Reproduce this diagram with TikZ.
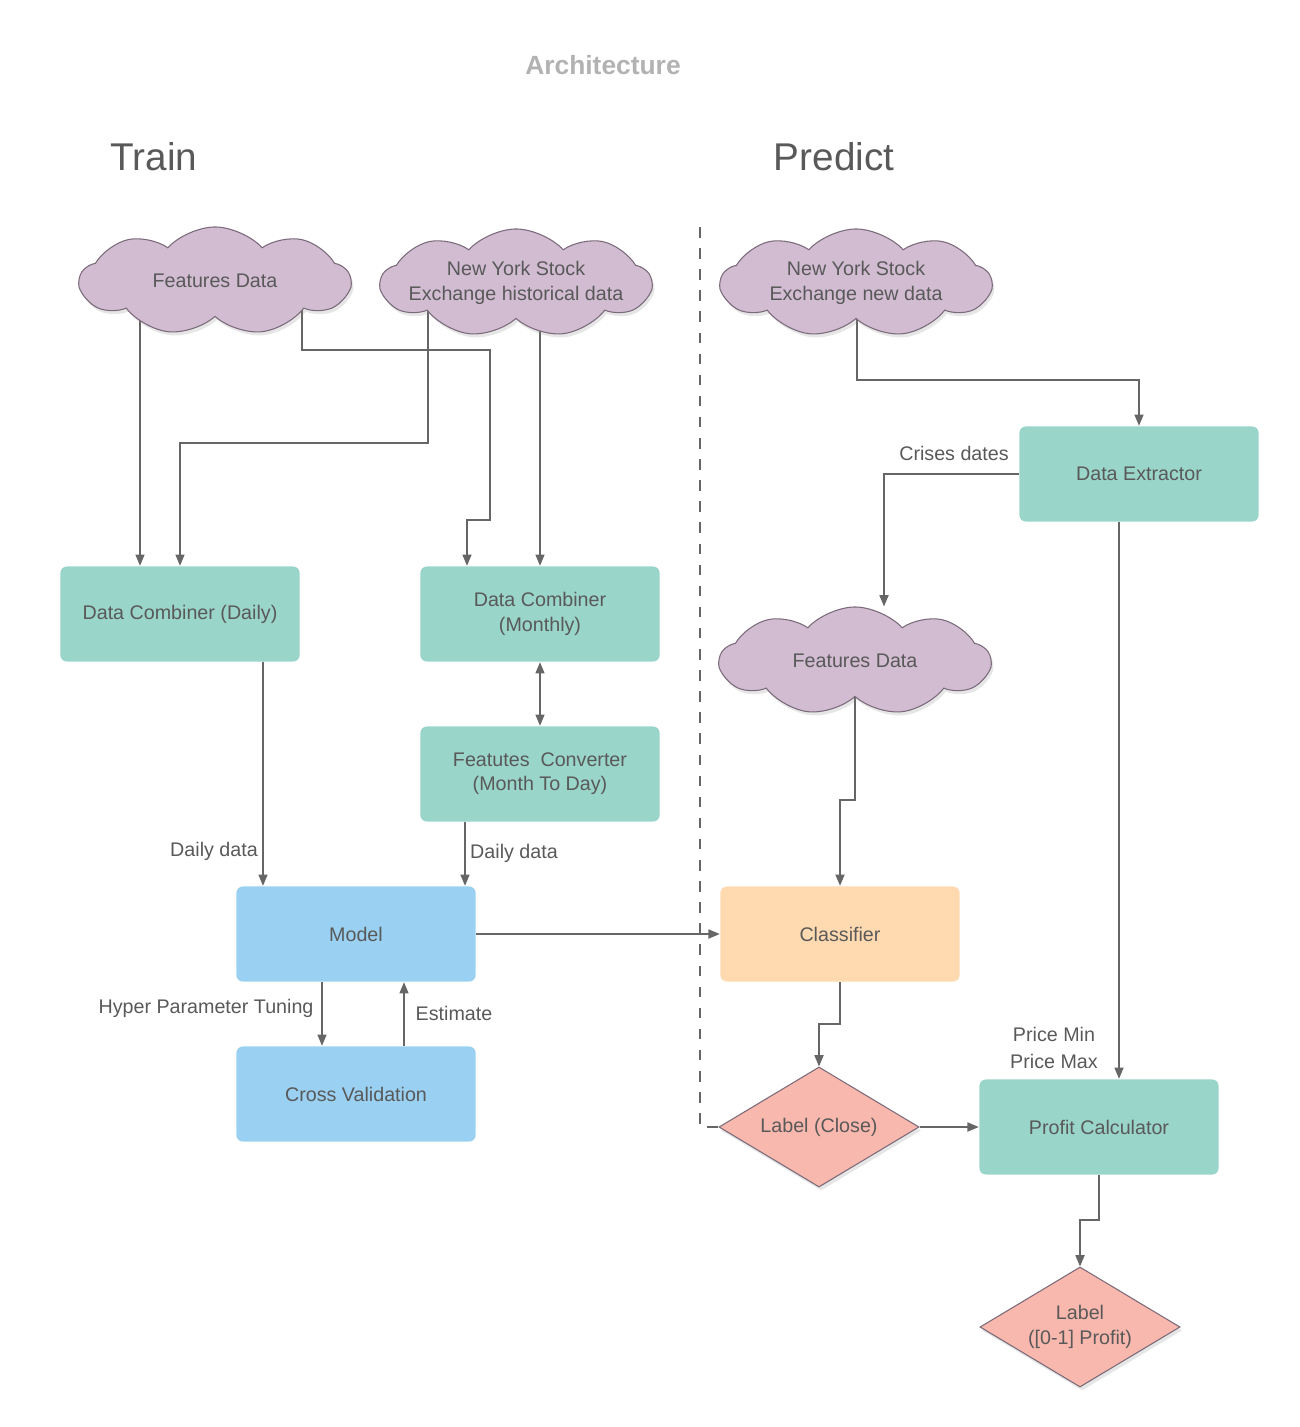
\documentclass[tikz,border=0pt]{standalone}
\usepackage{fontspec}
\setmainfont{Liberation Sans}
\usetikzlibrary{shapes.geometric,shapes.symbols,arrows.meta,backgrounds,shadows}

\definecolor{txtgray}{HTML}{595959}
\definecolor{linegray}{HTML}{666666}
\definecolor{tealfill}{HTML}{9AD5CA}
\definecolor{bluefill}{HTML}{9AD1F2}
\definecolor{peachfill}{HTML}{FFDAB1}
\definecolor{pinkfill}{HTML}{F9B8AD}
\definecolor{cloudfill}{HTML}{D2BCD2}
\definecolor{cloudline}{HTML}{7A6A7A}

\tikzset{
  txt/.style={text=txtgray, font=\fontsize{5.6}{6.9}\selectfont, align=center},
  proc/.style={txt, rectangle, rounded corners=1.8pt, minimum width=2.39cm, minimum height=0.95cm, inner sep=0pt},
  cloudy/.style={cloud, cloud puffs=9, cloud puff arc=95, cloud ignores aspect, fill=cloudfill, draw=cloudline, line width=0.3pt, minimum width=2.7cm, minimum height=1.08cm, inner sep=0pt, drop shadow={shadow xshift=0.6pt, shadow yshift=-1pt, opacity=0.2}},
  decision/.style={txt, diamond, aspect=1.67, fill=pinkfill, draw=cloudline, line width=0.3pt, minimum width=2cm, minimum height=1.2cm, inner sep=0pt, drop shadow={shadow xshift=0.6pt, shadow yshift=-1pt, opacity=0.2}},
  lbl/.style={txt, inner sep=1pt},
  arr/.style={draw=linegray, line width=0.35pt, -{Triangle[length=3.2pt,width=2.6pt]}},
  arrboth/.style={draw=linegray, line width=0.35pt, {Triangle[length=3.2pt,width=2.6pt]}-{Triangle[length=3.2pt,width=2.6pt]}},
}

\begin{document}
\begin{tikzpicture}[x=0.01cm, y=-0.01cm]
   \useasboundingbox (0,0) rectangle (1299,1427);

   % titles
   \node[text=gray!60, font=\fontsize{7.5}{9}\selectfont\bfseries] (title) at (603,65) {Architecture};
   \node[text=txtgray, font=\fontsize{11}{13}\selectfont] (train) at (154,157) {Train};
   \node[text=txtgray, font=\fontsize{11}{13}\selectfont] (predict) at (834,157) {Predict};

   % train side
   \node[cloudy, label={[txt]center:Features Data}] (fdl) at (215,281) {};
   \node[cloudy, label={[txt]center:New York Stock\\Exchange historical data}] (nyh) at (516,283) {};
   \node[proc, fill=tealfill] (dcd) at (180,614) {Data Combiner (Daily)};
   \node[proc, fill=tealfill] (dcm) at (540,614) {Data Combiner\\(Monthly)};
   \node[proc, fill=tealfill] (fcv) at (540,774) {Featutes~ Converter\\(Month To Day)};
   \node[proc, fill=bluefill] (model) at (356,934) {Model};
   \node[proc, fill=bluefill] (cv) at (356,1094) {Cross Validation};

   \node[lbl] (dd1) at (214,851) {Daily data};
   \node[lbl] (dd2) at (514,853) {Daily data};
   \node[lbl] (hpt) at (206,1008) {Hyper Parameter Tuning};
   \node[lbl] (est) at (454,1013) {Estimate};

   % predict side
   \node[cloudy, label={[txt]center:New York Stock\\Exchange new data}] (nyn) at (856,283) {};
   \node[proc, fill=tealfill] (dex) at (1139,474) {Data Extractor};
   \node[cloudy, label={[txt]center:Features Data}] (fdr) at (855,661) {};
   \node[proc, fill=peachfill] (clf) at (840,934) {Classifier};
   \node[decision] (lclose) at (819,1127) {Label (Close)};
   \node[proc, fill=tealfill] (pc) at (1099,1127) {Profit Calculator};
   \node[decision] (lprofit) at (1080,1327) {Label\\([0-1] Profit)};

   \node[lbl] (crises) at (954,453) {Crises dates};
   \node[lbl, font=\fontsize{5.6}{7.6}\selectfont] (price) at (1054,1048) {Price Min\\Price Max};

   \begin{scope}[on background layer]
   \draw[arr] ([shift={(-75,0)}]fdl.center) -- ([shift={(-40,0)}]dcd.north);
   \draw[arr] ([shift={(87,0)}]fdl.center) -- (302,350) -- (490,350) -- (490,520) -- (467,520) -- ([shift={(-73,0)}]dcm.north);
   \draw[arr] ([shift={(-88,0)}]nyh.center) -- (428,443) -- (180,443) -- (dcd.north);
   \draw[arr] ([shift={(24,0)}]nyh.center) -- (dcm.north);
   \draw[arrboth] (dcm.south) -- (fcv.north);
   \draw[arr] ([shift={(83,0)}]dcd.south) -- ([shift={(-93,0)}]model.north);
   \draw[arr] ([shift={(-75,0)}]fcv.south) -- ([shift={(109,0)}]model.north);
   \draw[arr] (model.east) -- (clf.west);
   \draw[arr] ([shift={(-34,0)}]model.south) -- ([shift={(-34,0)}]cv.north);
   \draw[arr] ([shift={(48,0)}]cv.north) -- ([shift={(48,0)}]model.south);

   \draw[arr] ([shift={(1,0)}]nyn.center) -- (857,380) -| (dex.north);
   \draw[arr] (dex.west) -| ([shift={(29,0)}]fdr.north);
   \draw[arr] ([shift={(-20,0)}]dex.south) -- ([shift={(20,0)}]pc.north);
   \draw[arr] (fdr.center) |- (840,800) -- (clf.north);
   \draw[arr] (clf.south) |- (819,1024) -- (lclose.north);
   \draw[arr] (lclose.east) -- (pc.west);
   \draw[arr] (pc.south) |- (1080,1220) -- (lprofit.north);

   \draw[draw=linegray, line width=0.35pt, dashed] (700,227) |- (lclose.west);
   \end{scope}
\end{tikzpicture}
\end{document}
